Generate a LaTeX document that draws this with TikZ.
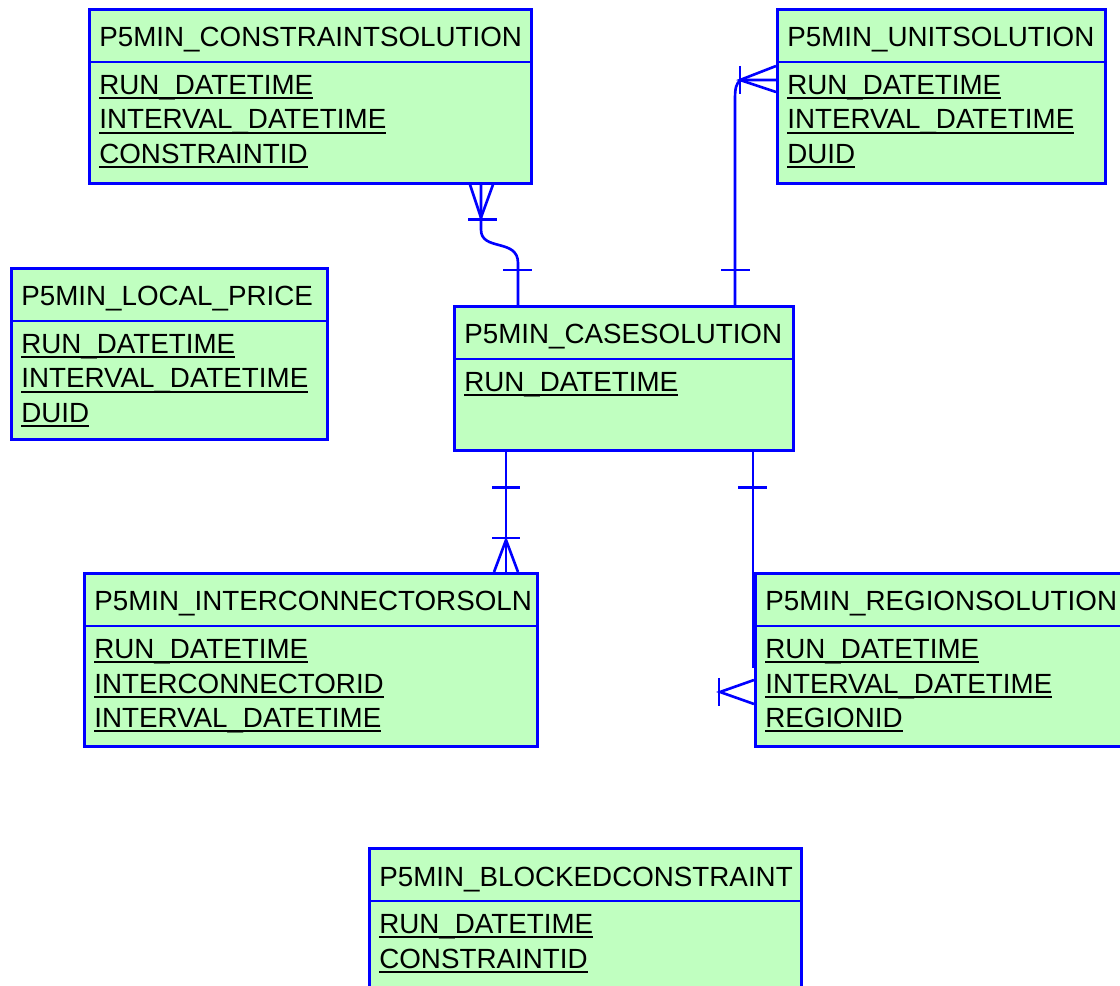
\documentclass[tikz,border=0pt]{standalone}
\usepackage{fontspec}
\setmainfont{Liberation Sans}
\usetikzlibrary{calc}
\definecolor{entBlue}{RGB}{0,0,255}
\definecolor{entGreen}{RGB}{192,255,192}

\tikzset{
  entbox/.style={draw=entBlue, fill=entGreen, line width=1.5pt, anchor=north west, inner sep=0pt},
  entline/.style={draw=entBlue, line width=1.5pt},
  enttext/.style={anchor=base west, inner sep=0pt, font=\fontsize{15.8}{18}\selectfont},
  relline/.style={draw=entBlue, line width=1.5pt}
}

% underlined key field
\newcommand{\keyfld}[1]{\setbox0\hbox{#1}\rlap{\rule[-2.6pt]{\wd0}{1pt}}\box0}

% entity: name, x, y, width, height, title, key fields
\newcommand{\entity}[7]{%
  \node[entbox, minimum width={#4*0.02cm}, minimum height={#5*0.02cm}] (#1) at (#2,#3) {};
  \draw[entline] ($(#1.north west)+(0,54)$) -- ($(#1.north east)+(0,54)$);
  \node[enttext] (#1-title) at ($(#1.north west)+(11,39)$) {#6};
  \foreach \fld [count=\i] in {#7}
    \node[enttext] (#1-f\i) at ($(#1.north west)+(11,52+34.5*\i)$) {\keyfld{\fld}};
}

\begin{document}
\begin{tikzpicture}[x=0.02cm, y=-0.02cm]
  \useasboundingbox (0,0) rectangle (1120,986);

  \entity{csol}{88}{8}{442}{174}{P5MIN\_CONSTRAINTSOLUTION}{RUN\_DATETIME, INTERVAL\_DATETIME, CONSTRAINTID}
  \entity{usol}{776}{8}{328}{174}{P5MIN\_UNITSOLUTION}{RUN\_DATETIME, INTERVAL\_DATETIME, DUID}
  \entity{lprice}{10}{267}{316}{171}{P5MIN\_LOCAL\_PRICE}{RUN\_DATETIME, INTERVAL\_DATETIME, DUID}
  \entity{case}{453}{305}{339}{144}{P5MIN\_CASESOLUTION}{RUN\_DATETIME}
  \entity{icsoln}{83}{572}{453}{173}{P5MIN\_INTERCONNECTORSOLN}{RUN\_DATETIME, INTERCONNECTORID, INTERVAL\_DATETIME}
  \entity{rsol}{754}{572}{380}{173}{P5MIN\_REGIONSOLUTION}{RUN\_DATETIME, INTERVAL\_DATETIME, REGIONID}
  \entity{blocked}{368}{847}{432}{160}{P5MIN\_BLOCKEDCONSTRAINT}{RUN\_DATETIME, CONSTRAINTID}

  % case solution -- constraint solution
  \coordinate (cs-a) at ($(csol.south west)+(393,0)$);
  \coordinate (cs-b) at ($(case.north west)+(65,0)$);
  \draw[relline] (cs-a) -- ++(0,45) .. controls +(0,22) and +(0,-25) .. ($(cs-b)+(0,-42)$) -- (cs-b);
  \draw[relline] ($(cs-a)+(-11,0)$) -- ($(cs-a)+(0,33)$) -- ($(cs-a)+(12,0)$);
  \draw[relline] ($(cs-a)+(-13,35)$) -- ++(29,0);
  \draw[relline] ($(cs-b)+(-15,-35)$) -- ++(29,0);

  % case solution -- unit solution
  \coordinate (us-a) at ($(usol.north west)+(0,72)$);
  \coordinate (us-b) at ($(case.north west)+(282,0)$);
  \draw[relline] (us-a) -- ++(-35,0) .. controls +(-5,3) and +(0,-12) .. ($(us-b |- us-a)+(0,20)$) -- (us-b);
  \draw[relline] ($(us-a)+(0,-14)$) -- ($(us-a)+(-36,0)$) -- ($(us-a)+(0,12)$);
  \draw[relline] ($(us-a)+(-36,-14)$) -- ++(0,28);
  \draw[relline] ($(us-b)+(-14,-35)$) -- ++(29,0);

  % case solution -- interconnector
  \coordinate (cs-c) at ($(case.south west)+(53,0)$);
  \coordinate (ic-a) at (cs-c |- icsoln.north);
  \draw[relline] (cs-c) -- (ic-a);
  \draw[relline] ($(cs-c)+(-14,36)$) -- ++(28,0);
  \draw[relline] ($(ic-a)+(-14,-34)$) -- ++(28,0);
  \draw[relline] ($(ic-a)+(-12,0)$) -- ($(ic-a)+(0,-32)$) -- ($(ic-a)+(12,0)$);

  % case solution -- region solution
  \coordinate (cs-d) at ($(case.south west)+(300,0)$);
  \coordinate (rs-a) at ($(rsol.north west)+(0,120)$);
  \draw[relline] (cs-d) -- ($(cs-d |- rs-a)+(0,-24)$);
  \draw[relline] ($(cs-d)+(-15,36)$) -- ++(29,0);
  \draw[relline] ($(rs-a)+(0,-12)$) -- ($(rs-a)+(-34,0)$) -- ($(rs-a)+(0,12)$);
  \draw[relline] ($(rs-a)+(-35,-14)$) -- ++(0,28);
\end{tikzpicture}
\end{document}
